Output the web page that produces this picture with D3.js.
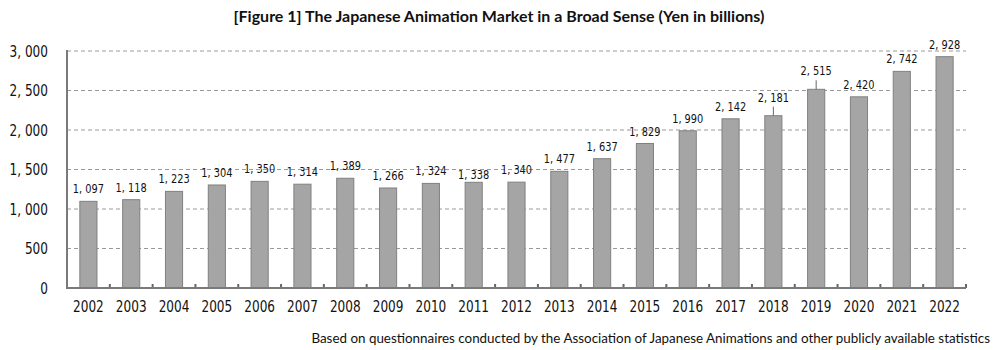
<!DOCTYPE html>
<html>
<head>
<meta charset="utf-8">
<script src="https://cdn.jsdelivr.net/npm/d3@7"></script>
<style>
  body { margin: 0; background: #fff; }
  #container { width: 1000px; height: 350px; }
  .num { font-family: "Liberation Sans Narrow", "Arial Narrow", "DejaVu Sans Condensed", sans-serif; fill: #111; }
</style>
</head>
<body>
<div id="container"></div>
<script>
const years = ["2002","2003","2004","2005","2006","2007","2008","2009","2010","2011","2012",
    "2013","2014","2015","2016","2017","2018","2019","2020","2021","2022"];
const marketValues = [1097,1118,1223,1304,1350,1314,1389,1266,1324,1338,1340,
    1477,1637,1829,1990,2142,2181,2515,2420,2742,2928];
const yTicks = [0,500,1000,1500,2000,2500,3000];
const titleText = "[Figure 1] The Japanese Animation Market in a Broad Sense (Yen in billions)";
const noteText = "Based on questionnaires conducted by the Association of Japanese Animations and other publicly available statistics";

const width = 1000, height = 350;
const plotLeft = 67, plotRight = 966, plotTop = 51, plotBottom = 288;
const squeeze = 0.84; // narrow the number font horizontally

const svg = d3.select("#container")
    .append("svg")
    .attr("width", width)
    .attr("height", height);

const x = d3.scaleBand().domain(years).range([plotLeft, plotRight]).paddingInner(0.6).paddingOuter(0.3);
const y = d3.scaleLinear().domain([0, 3000]).range([plotBottom, plotTop]);
const fmt = v => d3.format(",")(v).replace(",", ", ");

// gridlines
svg.append("g")
    .selectAll("line")
    .data(yTicks.filter(d => d > 0))
    .join("line")
    .attr("x1", plotLeft).attr("x2", plotRight)
    .attr("y1", d => y(d)).attr("y2", d => y(d))
    .attr("stroke", "#9a9a9a")
    .attr("stroke-width", 1)
    .attr("stroke-dasharray", "4,3");

// bars
svg.append("g")
    .selectAll("rect")
    .data(years)
    .join("rect")
    .attr("x", d => x(d))
    .attr("y", (d, i) => y(marketValues[i]))
    .attr("width", x.bandwidth())
    .attr("height", (d, i) => plotBottom - y(marketValues[i]))
    .attr("fill", "#a5a5a5")
    .attr("stroke", "#808080")
    .attr("stroke-width", 1);

// value labels (a couple are lifted with a leader line)
const leaderYears = new Set(["2018", "2019"]);
const labels = svg.append("g");
years.forEach((yr, i) => {
    const cx = x(yr) + x.bandwidth() / 2;
    const barTop = y(marketValues[i]);
    let base = barTop - 8;
    if (yr === "2011") base = barTop - 3;
    if (leaderYears.has(yr)) {
        base = barTop - 14;
        labels.append("line")
            .attr("x1", cx).attr("x2", cx)
            .attr("y1", barTop).attr("y2", barTop - 9)
            .attr("stroke", "#666").attr("stroke-width", 1);
    }
    labels.append("text")
        .attr("class", "num")
        .attr("transform", `translate(${cx},${base}) scale(${squeeze},1)`)
        .attr("text-anchor", "middle")
        .style("font-size", "13px")
        .text(fmt(marketValues[i]));
});

// y axis labels
svg.append("g")
    .selectAll("text")
    .data(yTicks)
    .join("text")
    .attr("class", "num")
    .attr("transform", d => `translate(48,${y(d) + 5.5}) scale(${squeeze},1)`)
    .attr("text-anchor", "end")
    .style("font-size", "16px")
    .text(d => fmt(d));

// x axis labels
svg.append("g")
    .selectAll("text")
    .data(years)
    .join("text")
    .attr("class", "num")
    .attr("transform", d => `translate(${x(d) + x.bandwidth() / 2},312) scale(${squeeze},1)`)
    .attr("text-anchor", "middle")
    .style("font-size", "16px")
    .text(d => d);

// axes lines and tick marks
const step = x.step();
const bounds = d3.range(years.length + 1).map(i => plotLeft + i * step);
svg.append("g")
    .selectAll("line")
    .data(bounds.slice(1))
    .join("line")
    .attr("x1", d => d).attr("x2", d => d)
    .attr("y1", plotBottom - 4).attr("y2", plotBottom)
    .attr("stroke", "#666").attr("stroke-width", 2);
svg.append("line")
    .attr("x1", plotLeft).attr("x2", plotLeft + years.length * step)
    .attr("y1", plotBottom).attr("y2", plotBottom)
    .attr("stroke", "#7a7a7a").attr("stroke-width", 2);
svg.append("line")
    .attr("x1", plotLeft).attr("x2", plotLeft)
    .attr("y1", plotTop - 1).attr("y2", plotBottom + 1)
    .attr("stroke", "#7a7a7a").attr("stroke-width", 2);

// title and note
svg.append("text")
    .attr("x", 499)
    .attr("y", 22)
    .attr("text-anchor", "middle")
    .style("font-family", "Lato, 'Open Sans', sans-serif")
    .style("font-weight", "bold")
    .style("font-size", "16px")
    .attr("fill", "#111")
    .text(titleText);

svg.append("text")
    .attr("x", 990)
    .attr("y", 343)
    .attr("text-anchor", "end")
    .style("font-family", "Lato, 'Open Sans', sans-serif")
    .style("font-size", "13.4px")
    .attr("fill", "#111")
    .text(noteText);
</script>
</body>
</html>
